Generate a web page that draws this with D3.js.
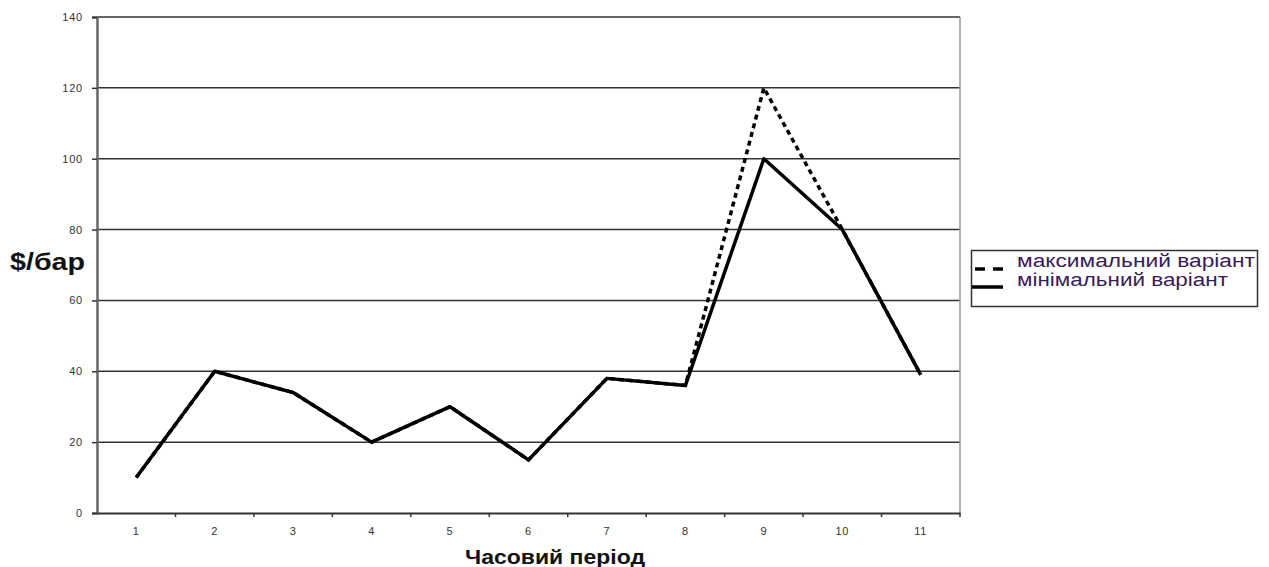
<!DOCTYPE html>
<html>
<head>
<meta charset="utf-8">
<script src="https://cdn.jsdelivr.net/npm/d3@7"></script>
<style>
  html, body { margin: 0; padding: 0; background: #fff; }
  svg { display: block; font-family: "Liberation Sans", Arial, sans-serif; }
</style>
</head>
<body>
<svg id="chart" width="1269" height="567"></svg>
<script>
// Hourly periods and price per barrel for both scenarios
const periods = ["1", "2", "3", "4", "5", "6", "7", "8", "9", "10", "11"];
const maxVariant = [10, 40, 34, 20, 30, 15, 38, 36, 120, 80, 39];
const minVariant = [10, 40, 34, 20, 30, 15, 38, 36, 100, 80, 39];
const yTicks = [0, 20, 40, 60, 80, 100, 120, 140];
const seriesNames = ["максимальний варіант", "мінімальний варіант"];

const svg = d3.select("#chart");
const plot = { left: 97, right: 960, top: 17, bottom: 513 };

const x = d3.scaleBand().domain(periods).range([plot.left, plot.right]);
const y = d3.scaleLinear().domain([0, 140]).range([plot.bottom, plot.top]);

// Horizontal grid lines
svg.append("g")
  .selectAll("line")
  .data(yTicks.filter(d => d > 0))
  .join("line")
  .attr("x1", plot.left).attr("x2", plot.right)
  .attr("y1", d => y(d)).attr("y2", d => y(d))
  .attr("stroke", "#333").attr("stroke-width", 1.5);

// Right border of the plot area
svg.append("line")
  .attr("x1", plot.right).attr("x2", plot.right)
  .attr("y1", plot.top).attr("y2", plot.bottom)
  .attr("stroke", "#999").attr("stroke-width", 1.5);

// Y axis
const yAxis = svg.append("g")
  .attr("transform", `translate(${plot.left},0)`)
  .call(d3.axisLeft(y).tickValues(yTicks).tickSize(5).tickPadding(9));
yAxis.select(".domain").attr("stroke", "#666").attr("stroke-width", 2.5);
yAxis.selectAll(".tick line").attr("stroke", "#333").attr("stroke-width", 1.5);
yAxis.selectAll(".tick text").attr("font-size", 11).attr("fill", "#333")
  .attr("letter-spacing", "0.8px")
  .attr("font-family", "Liberation Sans, Arial, sans-serif");

// X axis: ticks sit between categories
const xAxis = svg.append("g")
  .attr("transform", `translate(0,${plot.bottom})`)
  .call(d3.axisBottom(x).tickSize(0).tickPadding(14));
xAxis.select(".domain").attr("stroke", "#333").attr("stroke-width", 2);
xAxis.selectAll(".tick text").attr("font-size", 11).attr("fill", "#333")
  .attr("letter-spacing", "0.8px")
  .attr("font-family", "Liberation Sans, Arial, sans-serif");
xAxis.selectAll(".sep")
  .data(periods.map(p => x(p) + x.bandwidth()))
  .join("line")
  .attr("class", "sep")
  .attr("x1", d => d).attr("x2", d => d)
  .attr("y1", 0).attr("y2", 4)
  .attr("stroke", "#333").attr("stroke-width", 1.5);

// Lines
const line = d3.line()
  .x((d, i) => x(periods[i]) + x.bandwidth() / 2)
  .y(d => y(d));

svg.append("path")
  .datum(maxVariant)
  .attr("d", line)
  .attr("fill", "none")
  .attr("stroke", "#000")
  .attr("stroke-width", 3.5)
  .attr("stroke-dasharray", "5,4");

svg.append("path")
  .datum(minVariant)
  .attr("d", line)
  .attr("fill", "none")
  .attr("stroke", "#000")
  .attr("stroke-width", 3.5)
  .attr("stroke-linejoin", "round");

// Axis titles
svg.append("text")
  .attr("x", 10).attr("y", 270)
  .attr("font-size", 23).attr("font-weight", "bold").attr("fill", "#111")
  .attr("textLength", 75).attr("lengthAdjust", "spacingAndGlyphs")
  .text("$/бар");

svg.append("text")
  .attr("x", 465).attr("y", 564)
  .attr("font-size", 20).attr("font-weight", "bold").attr("fill", "#111")
  .attr("textLength", 180).attr("lengthAdjust", "spacingAndGlyphs")
  .text("Часовий період");

// Legend
const legend = svg.append("g").attr("transform", "translate(971,250)");
legend.append("rect")
  .attr("x", 0.5).attr("y", 0.5).attr("width", 286).attr("height", 56)
  .attr("fill", "#fff").attr("stroke", "#333").attr("stroke-width", 1.5);
legend.append("line")
  .attr("x1", 4).attr("x2", 32).attr("y1", 19).attr("y2", 19)
  .attr("stroke", "#000").attr("stroke-width", 3.5).attr("stroke-dasharray", "10,8");
legend.append("line")
  .attr("x1", 1).attr("x2", 32).attr("y1", 37).attr("y2", 37)
  .attr("stroke", "#000").attr("stroke-width", 3.5);
const legendWidths = [238, 211];
legend.selectAll("text.lbl")
  .data(seriesNames)
  .join("text")
  .attr("class", "lbl")
  .attr("x", 46).attr("y", (d, i) => 17 + i * 19)
  .attr("font-size", 18).attr("fill", "#3a1a5a")
  .attr("textLength", (d, i) => legendWidths[i]).attr("lengthAdjust", "spacingAndGlyphs")
  .text(d => d);
</script>
</body>
</html>
